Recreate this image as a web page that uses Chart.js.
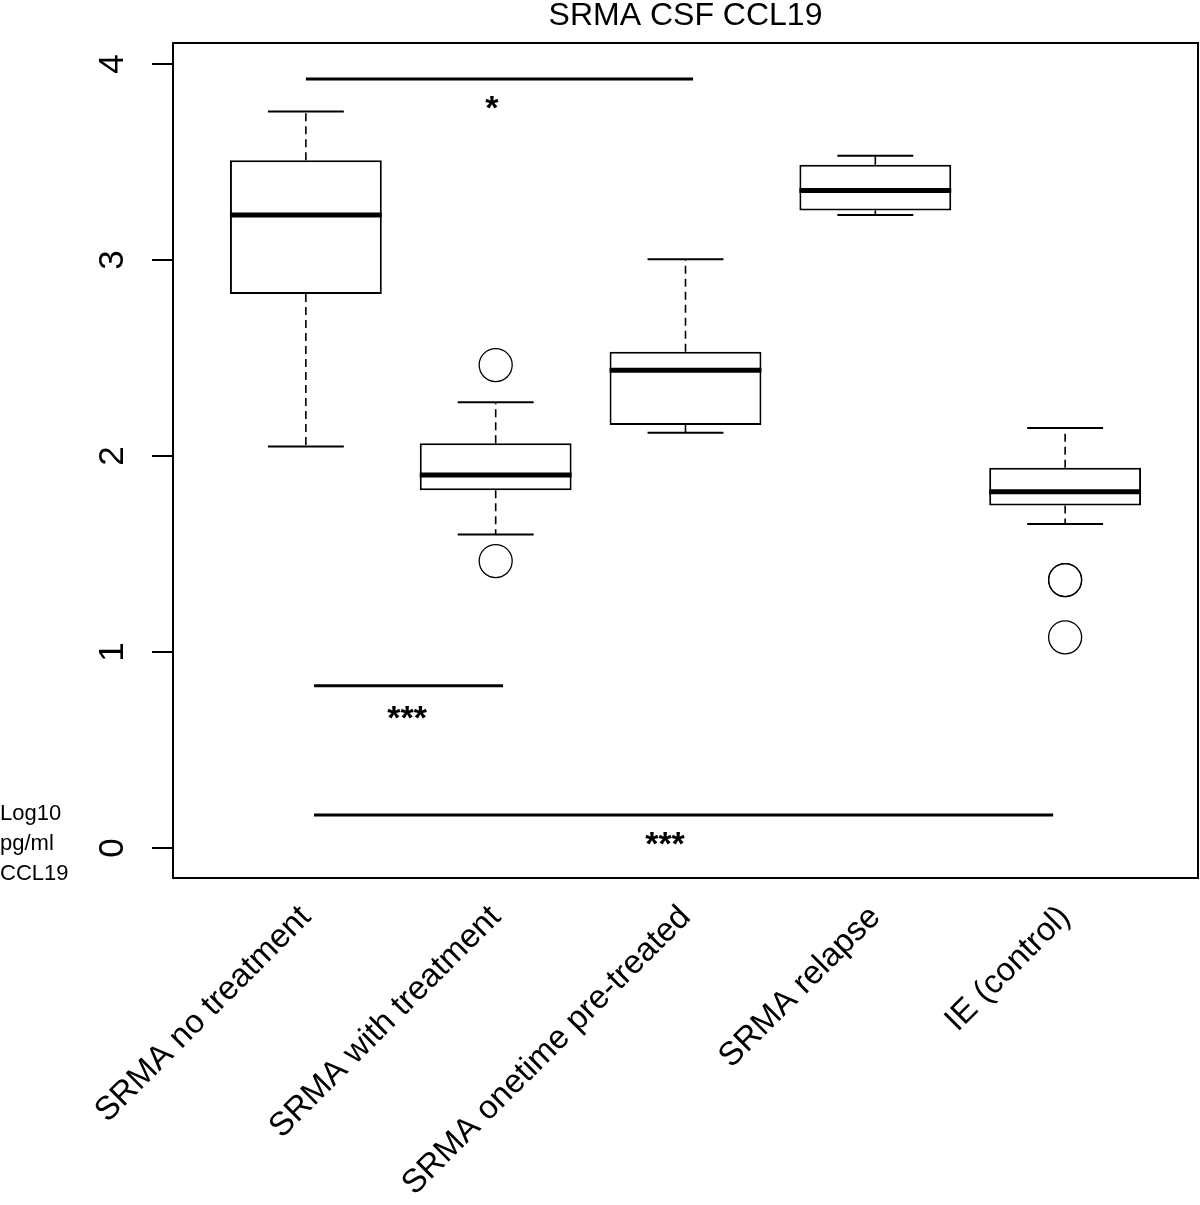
<!DOCTYPE html>
<html>
<head>
<meta charset="utf-8">
<script src="https://cdn.jsdelivr.net/npm/chart.js@4.4.1/dist/chart.umd.min.js"></script>
<style>
  html, body { margin: 0; padding: 0; background: #fff; overflow: hidden; }
  #wrap { width: 1200px; height: 1205px; }
</style>
</head>
<body>
<div id="wrap"><canvas id="chart"></canvas></div>
<script>
// ─── DATA (log10 pg/ml CCL19) ───
const groups = ['SRMA no treatment', 'SRMA with treatment', 'SRMA onetime pre-treated', 'SRMA relapse', 'IE (control)'];
const whiskerLow  = [2.048, 1.599, 2.119, 3.230, 1.653];
const q1          = [2.827, 1.825, 2.158, 3.252, 1.747];
const median      = [3.230, 1.903, 2.437, 3.354, 1.818];
const q3          = [3.509, 2.065, 2.532, 3.486, 1.940];
const whiskerHigh = [3.758, 2.274, 3.004, 3.532, 2.143];

const outlierGroup = [2, 2, 5, 5, 5];
const outlierValue = [2.464, 1.464, 1.367, 1.367, 1.075];

const yTicks = [0, 1, 2, 3, 4];

// significance brackets (group positions, y value)
const sigFrom   = [1.0, 1.043, 1.043];
const sigTo     = [3.04, 2.039, 4.937];
const sigY      = [3.923, 0.828, 0.168];
const sigText   = ['*', '***', '***'];
const sigTextX  = [1.98, 1.533, 2.892];
const sigTextY  = [3.816, 0.704, 0.061];

const FONT = '"Liberation Sans", Arial, Helvetica, sans-serif';

const boxExtras = {
    id: 'boxExtras',
    afterDatasetsDraw(chart) {
        const ctx = chart.ctx;
        const xs = chart.scales.x, ys = chart.scales.y;
        ctx.save();
        ctx.strokeStyle = '#000';
        ctx.fillStyle = '#000';
        groups.forEach((g, i) => {
            const pos = i + 1;
            const cx = xs.getPixelForValue(pos);
            const half = xs.getPixelForValue(pos + 0.4) - cx;
            const sh = half / 2;
            // whiskers
            ctx.lineWidth = 1.6;
            ctx.setLineDash([8, 5]);
            ctx.beginPath();
            ctx.moveTo(cx, ys.getPixelForValue(q3[i]));
            ctx.lineTo(cx, ys.getPixelForValue(whiskerHigh[i]));
            ctx.moveTo(cx, ys.getPixelForValue(q1[i]));
            ctx.lineTo(cx, ys.getPixelForValue(whiskerLow[i]));
            ctx.stroke();
            ctx.setLineDash([]);
            // staples
            ctx.lineWidth = 2;
            ctx.beginPath();
            ctx.moveTo(cx - sh, ys.getPixelForValue(whiskerHigh[i]));
            ctx.lineTo(cx + sh, ys.getPixelForValue(whiskerHigh[i]));
            ctx.moveTo(cx - sh, ys.getPixelForValue(whiskerLow[i]));
            ctx.lineTo(cx + sh, ys.getPixelForValue(whiskerLow[i]));
            ctx.stroke();
            // median
            ctx.lineWidth = 5;
            ctx.beginPath();
            ctx.moveTo(cx - half, ys.getPixelForValue(median[i]));
            ctx.lineTo(cx + half, ys.getPixelForValue(median[i]));
            ctx.stroke();
        });
        // significance bars
        ctx.lineWidth = 3;
        ctx.font = 'bold 34px ' + FONT;
        ctx.textAlign = 'center';
        ctx.textBaseline = 'alphabetic';
        sigY.forEach((y, i) => {
            const py = ys.getPixelForValue(y);
            ctx.beginPath();
            ctx.moveTo(xs.getPixelForValue(sigFrom[i]), py);
            ctx.lineTo(xs.getPixelForValue(sigTo[i]), py);
            ctx.stroke();
            ctx.fillText(sigText[i], xs.getPixelForValue(sigTextX[i]), ys.getPixelForValue(sigTextY[i]) + 19);
        });
        ctx.restore();
    },
    afterDraw(chart) {
        const ctx = chart.ctx;
        const a = chart.chartArea;
        const ys = chart.scales.y;
        ctx.save();
        // frame
        ctx.strokeStyle = '#000';
        ctx.lineWidth = 2;
        ctx.strokeRect(a.left, a.top, a.right - a.left, a.bottom - a.top);
        // y tick labels, parallel to the axis
        ctx.fillStyle = '#000';
        ctx.font = '35px ' + FONT;
        ctx.textAlign = 'center';
        ctx.textBaseline = 'alphabetic';
        ys.ticks.forEach(t => {
            ctx.save();
            ctx.translate(123, ys.getPixelForValue(t.value));
            ctx.rotate(-Math.PI / 2);
            ctx.fillText(String(t.value), 0, 0);
            ctx.restore();
        });
        // axis caption bottom-left
        ctx.font = '22px ' + FONT;
        ctx.textAlign = 'left';
        ['Log10', 'pg/ml', 'CCL19'].forEach((s, i) => ctx.fillText(s, 0, 820 + i * 30));
        ctx.restore();
    }
};

const boxData = groups.map((g, i) => ({ x: i + 1, y: [q1[i], q3[i]] }));
const outlierData = outlierGroup.map((g, i) => ({ x: g, y: outlierValue[i] }));

new Chart(document.getElementById('chart'), {
    type: 'bar',
    data: {
        datasets: [
            {
                type: 'bar',
                data: boxData,
                backgroundColor: '#fff',
                borderColor: '#000',
                borderWidth: 2,
                borderSkipped: false,
                barPercentage: 0.8,
                categoryPercentage: 1.0
            },
            {
                type: 'scatter',
                data: outlierData,
                pointRadius: 16.5,
                pointBorderWidth: 1.3,
                pointBorderColor: '#000',
                pointBackgroundColor: 'rgba(0,0,0,0)',
                showLine: false
            }
        ]
    },
    options: {
        responsive: true,
        maintainAspectRatio: false,
        animation: false,
        layout: { autoPadding: false, padding: { left: 0, right: 2, top: 0, bottom: 0 } },
        plugins: {
            legend: { display: false },
            tooltip: { enabled: false },
            title: {
                display: true,
                text: 'SRMA CSF CCL19',
                fullSize: false,
                color: '#000',
                font: { family: FONT, size: 32, weight: 'normal', lineHeight: 1 },
                padding: { top: 0, bottom: 11 }
            }
        },
        scales: {
            x: {
                type: 'linear',
                offset: false,
                min: 0.3,
                max: 5.7,
                afterBuildTicks: s => { s.ticks = groups.map((g, i) => ({ value: i + 1 })); },
                afterFit: s => { s.height = 327; s.paddingLeft = 0; s.paddingRight = 0; },
                grid: { display: false },
                border: { display: false },
                ticks: {
                    color: '#000',
                    font: { family: FONT, size: 33 },
                    minRotation: 45,
                    maxRotation: 45,
                    autoSkip: false,
                    padding: 12,
                    callback: v => groups[v - 1]
                }
            },
            y: {
                type: 'linear',
                min: -0.153,
                max: 4.107,
                afterBuildTicks: s => { s.ticks = yTicks.map(v => ({ value: v })); },
                afterFit: s => { s.width = 173; },
                grid: { drawOnChartArea: false, drawTicks: true, tickLength: 21, color: '#000', lineWidth: 2 },
                border: { display: false },
                ticks: { display: false }
            }
        }
    },
    plugins: [boxExtras]
});
</script>
</body>
</html>
